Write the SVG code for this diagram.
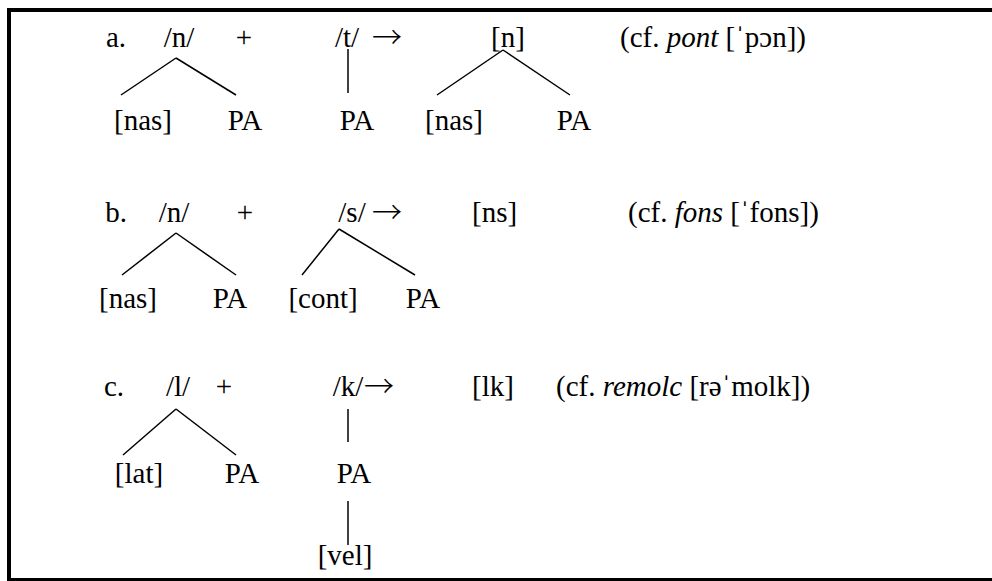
<svg xmlns="http://www.w3.org/2000/svg" width="992" height="581" viewBox="0 0 992 581">
<style>
text{font-family:"Liberation Serif","Times New Roman","DejaVu Serif",serif;font-size:29px;fill:#000}
.m{text-anchor:middle}
.i{font-style:italic}
.ar{font-family:"Noto Sans CJK JP","Noto Sans CJK SC",sans-serif;font-size:30px;font-weight:300}
.c line{stroke:#000;stroke-width:1.5;fill:none}
.b{stroke:#000;fill:none}
</style>
<rect width="992" height="581" fill="#fff"/>
<g id="frame">
<line class="b" x1="7" y1="10" x2="992" y2="10" stroke-width="4"/>
<line class="b" x1="9" y1="8" x2="9" y2="581" stroke-width="4"/>
<line class="b" x1="7" y1="579.5" x2="992" y2="579.5" stroke-width="3"/>
</g>
<g class="c" id="connectors">
<line x1="176" y1="58" x2="121" y2="95"/>
<line x1="176" y1="58" x2="236" y2="95"/>
<line x1="348" y1="49" x2="348" y2="93"/>
<line x1="503" y1="50" x2="437" y2="95"/>
<line x1="503" y1="50" x2="570" y2="95"/>
<line x1="176" y1="233" x2="122" y2="275"/>
<line x1="176" y1="233" x2="236" y2="275"/>
<line x1="339" y1="229" x2="302" y2="275"/>
<line x1="339" y1="229" x2="415" y2="275"/>
<line x1="176" y1="409" x2="123" y2="455"/>
<line x1="176" y1="409" x2="236" y2="455"/>
<line x1="348" y1="409" x2="348" y2="442"/>
<line x1="348" y1="501" x2="348" y2="545"/>
</g>
<g id="rowA">
<g id="a-label"><text class="m" x="116" y="47">a.</text></g>
<g id="a-n"><text class="m" x="179" y="47">/n/</text></g>
<g id="a-plus"><text class="m" x="244" y="47">+</text></g>
<g id="a-t"><text class="m" x="347" y="47">/t/</text></g>
<g id="a-arrow"><text class="ar" x="372" y="48">→</text></g>
<g id="a-res"><text class="m" x="508" y="47">[n]</text></g>
<g id="a-cf"><text x="620" y="47">(cf. <tspan class="i">pont</tspan> [ˈpɔn])</text></g>
<g id="a-nas1"><text class="m" x="143" y="130">[nas]</text></g>
<g id="a-pa1"><text class="m" x="245" y="130">PA</text></g>
<g id="a-pa2"><text class="m" x="357" y="130">PA</text></g>
<g id="a-nas2"><text class="m" x="454" y="130">[nas]</text></g>
<g id="a-pa3"><text class="m" x="574" y="130">PA</text></g>
</g>
<g id="rowB">
<g id="b-label"><text class="m" x="116" y="222">b.</text></g>
<g id="b-n"><text class="m" x="174" y="222">/n/</text></g>
<g id="b-plus"><text class="m" x="245" y="222">+</text></g>
<g id="b-s"><text class="m" x="352" y="222">/s/</text></g>
<g id="b-arrow"><text class="ar" x="372" y="223">→</text></g>
<g id="b-res"><text x="472" y="222">[ns]</text></g>
<g id="b-cf"><text x="628" y="222">(cf. <tspan class="i">fons</tspan> [ˈfons])</text></g>
<g id="b-nas"><text class="m" x="128" y="308">[nas]</text></g>
<g id="b-pa1"><text class="m" x="230" y="308">PA</text></g>
<g id="b-cont"><text class="m" x="323" y="308">[cont]</text></g>
<g id="b-pa2"><text class="m" x="423" y="308">PA</text></g>
</g>
<g id="rowC">
<g id="c-label"><text class="m" x="114" y="396">c.</text></g>
<g id="c-l"><text class="m" x="178" y="396">/l/</text></g>
<g id="c-plus"><text class="m" x="224" y="396">+</text></g>
<g id="c-k"><text class="m" x="348" y="396">/k/</text></g>
<g id="c-arrow"><text class="ar" x="364" y="397">→</text></g>
<g id="c-res"><text x="472" y="396">[lk]</text></g>
<g id="c-cf"><text x="556" y="396">(cf. <tspan class="i">remolc</tspan> [rəˈmolk])</text></g>
<g id="c-lat"><text class="m" x="139" y="483">[lat]</text></g>
<g id="c-pa1"><text class="m" x="242" y="483">PA</text></g>
<g id="c-pa2"><text class="m" x="354" y="483">PA</text></g>
<g id="c-vel"><text class="m" x="345" y="565">[vel]</text></g>
</g>
</svg>
